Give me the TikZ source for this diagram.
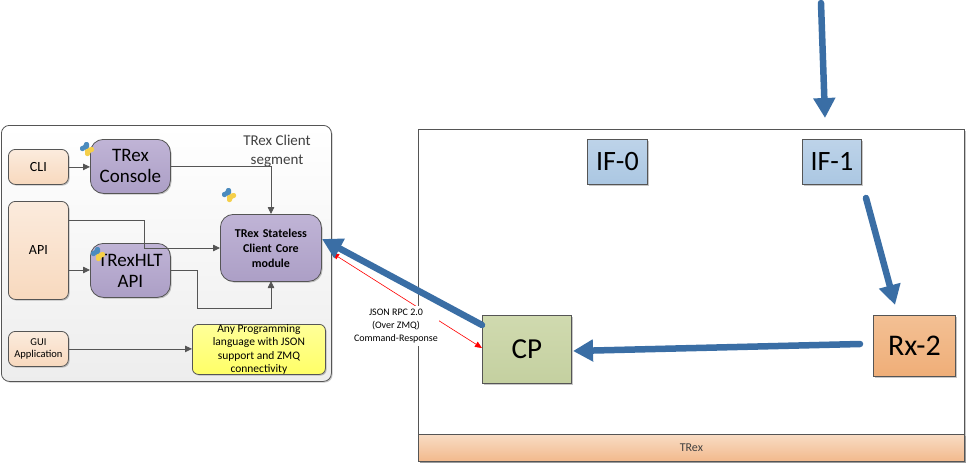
\documentclass[tikz,border=0pt]{standalone}
\usepackage{fontspec}
\setmainfont{Carlito}
\usetikzlibrary{arrows.meta,shadows,calc}
\definecolor{edge}{HTML}{555555}
\definecolor{flow}{HTML}{3A6EA5}
\definecolor{peachT}{HTML}{FBEBDD}
\definecolor{peachB}{HTML}{F8D9BE}
\definecolor{purpT}{HTML}{C0B4D6}
\definecolor{purpB}{HTML}{AC9FC6}
\definecolor{blueT}{HTML}{BDD3E9}
\definecolor{blueB}{HTML}{ABC7E2}
\definecolor{greenT}{HTML}{D0DAAF}
\definecolor{greenB}{HTML}{C4D0A0}
\definecolor{orangeT}{HTML}{F3C094}
\definecolor{orangeB}{HTML}{EFAE78}
\definecolor{bandT}{HTML}{F8DCC4}
\definecolor{bandB}{HTML}{F2B98C}
\definecolor{yelT}{HTML}{FFFF99}
\definecolor{yelB}{HTML}{FFFF66}
\definecolor{pyblue}{HTML}{4B8BBE}
\definecolor{pyyellow}{HTML}{F5CF4A}
\tikzset{
  x=1pt,y=-1pt,
  softshadow/.style={drop shadow={shadow xshift=1.2pt,shadow yshift=-1.2pt,opacity=.22,fill=black}},
  base/.style={draw=edge,line width=.8pt,inner sep=0pt,align=center,text=black,anchor=north west,softshadow},
  peach/.style={base,rounded corners=7pt,top color=peachT,bottom color=peachB,font=\fontsize{14}{16}\selectfont},
  purplebox/.style={base,rounded corners=13pt,top color=purpT,bottom color=purpB,text width=80pt,minimum width=80pt,minimum height=54pt,font=\fontsize{19}{21}\selectfont},
  square/.style={base,font=\fontsize{28}{30}\selectfont},
  conn/.style={draw=edge,line width=.8pt,-{Triangle[length=7pt,width=6.5pt]}},
  thick flow/.style={draw=flow,line width=6.5pt,line cap=round,-{Triangle[length=20pt,width=21pt,fill=flow]}},
  rpc/.style={draw=red,line width=.6pt,{Triangle[length=7pt,width=6pt]}-{Triangle[length=7pt,width=6pt]}},
}
\newcommand{\pyhalf}{(-3,-7) -- (2,-7) -- (2,0) -- (-2,0) -- (-2,2) -- (-7,2) -- (-7,-3) -- (-3,-3) -- cycle}
\newcommand{\pyicon}[2]{%
  \begin{scope}[shift={(#1,#2)}]
    \fill[pyblue,rounded corners=2pt] \pyhalf;
    \begin{scope}[rotate=180]
      \fill[pyyellow,rounded corners=2pt] \pyhalf;
    \end{scope}
  \end{scope}}
\begin{document}
\begin{tikzpicture}
\useasboundingbox (0,0) rectangle (967,464);
% client panel
\node[draw=edge,line width=.8pt,rounded corners=8pt,minimum width=330pt,minimum height=256pt,anchor=north west,inner sep=0pt,top color=white,bottom color=black!7,softshadow] (panel) at (1,125) {};
\node[align=center,font=\fontsize{15}{19}\selectfont,text=black!75] (seg) at (277,151) {TRex Client\\segment};
\node[peach,minimum width=60pt,minimum height=35pt] (cli) at (8,149) {CLI};
\node[peach,minimum width=60pt,minimum height=98pt] (api) at (8,201) {API};
\node[peach,minimum width=60pt,minimum height=35pt,font=\fontsize{10.5}{12.5}\selectfont] (gui) at (8,331) {GUI\\Application};
\node[purplebox] (console) at (90,139) {TRex\\Console};
\node[purplebox] (hlt) at (90,243) {TRexHLT\\API};
\node[purplebox,text width=101pt,minimum width=101pt,minimum height=67pt,font=\bfseries\fontsize{12}{15}\selectfont] (core) at (220,214) {TRex Stateless\\Client Core\\module};
\node[base,rounded corners=6pt,minimum width=133pt,minimum height=50pt,top color=yelT,bottom color=yelB,font=\fontsize{11.5}{13.4}\selectfont] (any) at (192,324) {Any Programming\\language with JSON\\support and ZMQ\\connectivity};
\pyicon{87}{149}
\pyicon{229}{195}
\pyicon{98}{254}
% connectors
\coordinate (apiup) at (68,220);
\coordinate (apilow) at (68,270);
\coordinate (corein) at (220,248);
\coordinate (hltout) at (170,270);
\coordinate (conout) at (170,166);
\coordinate (coretop) at (271,214);
\coordinate (corebot) at (271,281);
\draw[conn] (cli.east) -- (console.west |- cli.east);
\draw[conn] (conout) -- (coretop |- conout) -- (coretop);
\draw[conn] (apiup) -- (144,220) -- (144,248) -- (corein);
\draw[conn] (apilow) -- (hlt.west |- apilow);
\draw[conn] (hltout) -- (197,270) -- (197,308) -- (271,308) -- (corebot);
\draw[conn] (gui.east) -- (any.west |- gui.east);
% TRex box
\node[draw=edge,line width=.8pt,minimum width=546pt,minimum height=332pt,anchor=north west,inner sep=0pt,fill=white,softshadow] (trex) at (418,129) {};
\node[base,minimum width=546pt,minimum height=27pt,top color=bandT,bottom color=bandB,font=\fontsize{12}{14}\selectfont,text=black!75] (band) at (418,434) {TRex};
\node[square,minimum width=60pt,minimum height=45pt,top color=blueT,bottom color=blueB] (if0) at (587,139) {IF-0};
\node[square,minimum width=59pt,minimum height=45pt,top color=blueT,bottom color=blueB] (if1) at (802,139) {IF-1};
\node[square,minimum width=89pt,minimum height=68pt,top color=greenT,bottom color=greenB,font=\fontsize{29}{31}\selectfont] (cp) at (482,315) {CP};
\node[square,minimum width=82pt,minimum height=61pt,top color=orangeT,bottom color=orangeB,font=\fontsize{30}{32}\selectfont] (rx) at (873,315) {Rx-2};
% blue flows
\coordinate (top) at (821,3);
\coordinate (ifin) at (825,118);
\coordinate (ifout) at (866,198);
\coordinate (rxin) at (895,305);
\coordinate (rxout) at (860,344);
\coordinate (cpin) at (573,351);
\coordinate (cpout) at (482,325);
\coordinate (corein2) at (322,239);
% red rpc
\coordinate (rpca) at (332,253);
\coordinate (rpcb) at (482,348);
\draw[rpc] (rpca) -- (rpcb);
\node[fill=white,inner sep=0pt,minimum width=86pt,minimum height=40pt,align=center,font=\fontsize{10}{12.7}\selectfont] (rpclabel) at (396,326) {JSON RPC 2.0\\(Over ZMQ)\\Command-Response};
\draw[thick flow] (top) -- (ifin);
\draw[thick flow] (ifout) -- (rxin);
\draw[thick flow] (rxout) -- (cpin);
\draw[thick flow] (cpout) -- (corein2);
\end{tikzpicture}
\end{document}
